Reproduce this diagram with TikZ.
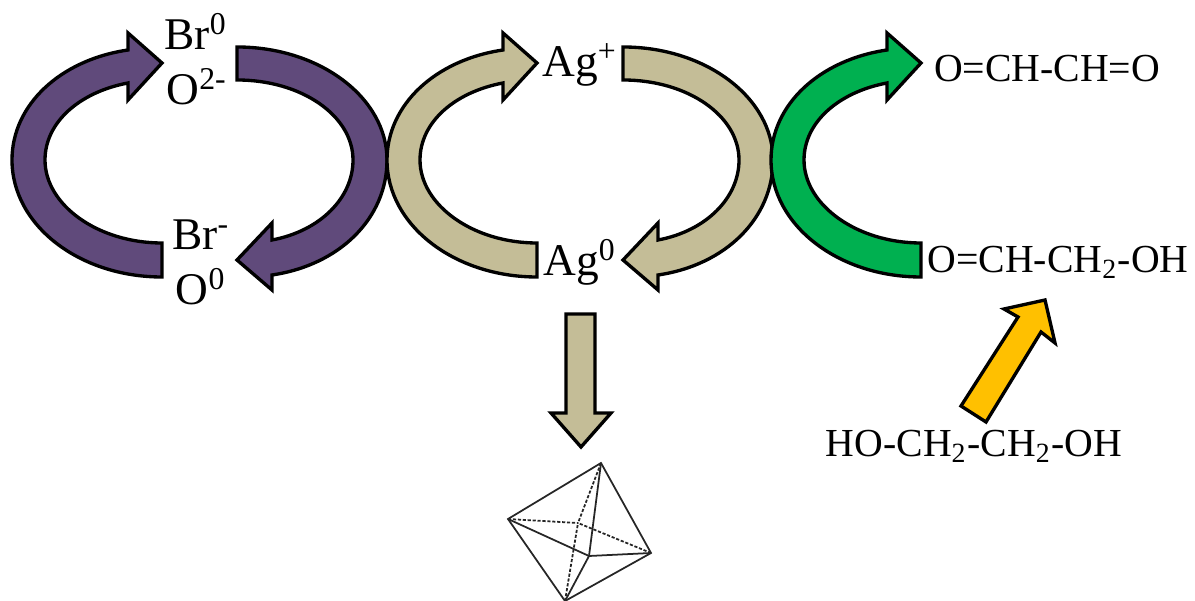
\documentclass[tikz,border=0pt]{standalone}
\usepackage{fontspec}
\setmainfont{Liberation Serif}
\usetikzlibrary{positioning}
\definecolor{cyclepurple}{HTML}{604A7B}
\definecolor{cycletan}{HTML}{C4BD97}
\definecolor{cyclegreen}{HTML}{00B050}
\definecolor{glycolyellow}{HTML}{FFC000}

\begin{document}
\begin{tikzpicture}[
        x=0.01cm, y=-0.01cm,
        bigion/.style={anchor=base, inner sep=0pt, font=\fontsize{12.9}{15}\selectfont},
        molecule/.style={anchor=base, inner sep=0pt, font=\fontsize{11.3}{13}\selectfont},
        blockarr/.style={draw=black, line width=0.95pt, miter limit=8},
        crystal/.style={draw=black!85, line width=0.5pt},
        crystalback/.style={crystal, dash pattern=on 0.9pt off 0.5pt},
        leftarc/.pic={
            \path[blockarr, pic actions] (162,277) .. controls (79,277) and (12,225) .. (12,160)
                .. controls (12,105) and (60,60) .. (128,50) -- (128,33) -- (162,63) -- (128,100) -- (128,83)
                .. controls (80,92) and (45,122) .. (45,160)
                .. controls (45,205) and (98,243) .. (162,243) -- cycle;
        },
        rightarc/.pic={
            \path[blockarr, pic actions] (237,47) .. controls (320,47) and (387,98) .. (387,160)
                .. controls (387,218) and (340,265) .. (272,275) -- (272,290) -- (237,260) -- (272,223) -- (272,240)
                .. controls (320,231) and (353,198) .. (353,160)
                .. controls (353,116) and (302,80) .. (237,80) -- cycle;
        }
      ]
        \useasboundingbox (0,0) rectangle (1195,601);

        \pic[fill=cyclepurple] at (0,0) {leftarc};
        \pic[fill=cyclepurple] at (0,0) {rightarc};
        \pic[fill=cycletan] at (375,0) {leftarc};
        \pic[fill=cycletan] at (386,0) {rightarc};
        \pic[fill=cyclegreen] at (759,0) {leftarc};

        \node[bigion] (brzero) at (196,50) {Br\textsuperscript{0}};
        \node[bigion] (oxminus) at (197,105) {O\textsuperscript{2-}};
        \node[bigion] (brminus) at (201,250) {Br\textsuperscript{-}};
        \node[bigion] (oxzero) at (201,305) {O\textsuperscript{0}};
        \node[bigion] (agplus) at (580,77) {Ag\textsuperscript{+}};
        \node[bigion] (agzero) at (580,276) {Ag\textsuperscript{0}};

        \node[molecule] (glyoxal) at (1047,82) {O=CH-CH=O};
        \node[molecule] (glycolald) at (1058,273) {O=CH-CH\textsubscript{2}-OH};
        \node[molecule] (glycol) at (974,457) {HO-CH\textsubscript{2}-CH\textsubscript{2}-OH};

        % straight arrows
        \path[blockarr, fill=cycletan] (566,314) -- (595,314) -- (595,413) -- (611,413) -- (581,447) -- (551,413) -- (566,413) -- cycle;
        \path[blockarr, fill=glycolyellow] (961,406) -- (1018,317) -- (1004,309) -- (1045,300) -- (1055,343) -- (1041,332) -- (986,422) -- cycle;

        % silver octahedron
        \coordinate (top) at (601,463);
        \coordinate (west) at (508,519);
        \coordinate (east) at (651,553);
        \coordinate (bottom) at (565,601);
        \coordinate (front) at (589,556);
        \coordinate (back) at (578,523);

        \draw[crystal] (top) -- (west) -- (bottom) -- (east) -- cycle;
        \draw[crystal] (top) -- (front);
        \draw[crystal] (west) -- (front);
        \draw[crystal] (east) -- (front);
        \draw[crystal] (bottom) -- (front);
        \draw[crystalback] (top) -- (back);
        \draw[crystalback] (west) -- (back);
        \draw[crystalback] (east) -- (back);
        \draw[crystalback] (bottom) -- (back);
      \end{tikzpicture}
\end{document}
